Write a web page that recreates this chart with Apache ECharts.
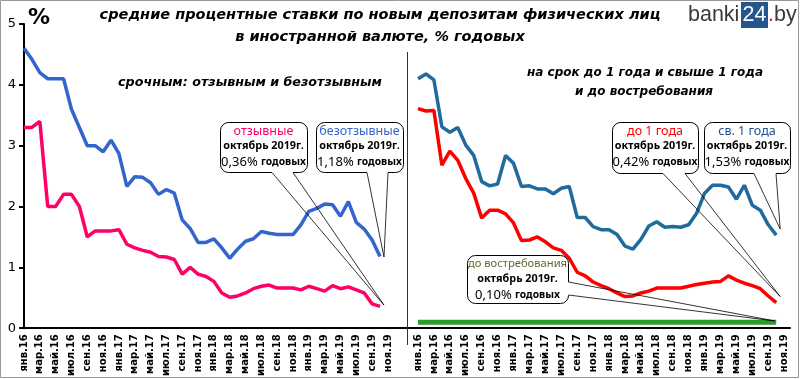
<!DOCTYPE html>
<html>
<head>
<meta charset="utf-8">
<script src="https://cdn.jsdelivr.net/npm/echarts@6/dist/echarts.min.js"></script>
<style>
html,body{margin:0;padding:0;background:#fff;}
#c{width:800px;height:379px;}
</style>
</head>
<body>
<div id="c"></div>
<script>
// tick labels (every second month, Jan 2016 .. Nov 2019)
const tickLabels = ['янв.16','мар.16','май.16','июл.16','сен.16','ноя.16',
  'янв.17','мар.17','май.17','июл.17','сен.17','ноя.17',
  'янв.18','мар.18','май.18','июл.18','сен.18','ноя.18',
  'янв.19','мар.19','май.19','июл.19','сен.19','ноя.19'];

// monthly values Jan 2016 .. Oct 2019, % per year
const revocable = [3.3, 3.3, 3.4, 2.0, 2.0, 2.2, 2.2, 2.0, 1.5, 1.6, 1.6, 1.6, 1.62, 1.38, 1.32, 1.28, 1.25, 1.18, 1.17, 1.13,
  0.89, 1.0, 0.89, 0.85, 0.77, 0.58, 0.51, 0.53, 0.58, 0.65, 0.69, 0.71, 0.66, 0.66, 0.66, 0.63, 0.69, 0.65, 0.61, 0.70,
  0.65, 0.68, 0.63, 0.58, 0.40, 0.36];
const irrevocable = [4.6, 4.42, 4.2, 4.1, 4.1, 4.1, 3.6, 3.3, 3.0, 3.0, 2.9, 3.09, 2.87, 2.33, 2.49, 2.48, 2.39, 2.2, 2.28, 2.22,
  1.78, 1.64, 1.41, 1.41, 1.47, 1.32, 1.15, 1.30, 1.43, 1.47, 1.59, 1.56, 1.54, 1.54, 1.54, 1.70, 1.92, 1.97, 2.04, 2.03,
  1.84, 2.08, 1.74, 1.63, 1.45, 1.18];
const upTo1Year = [3.61, 3.57, 3.58, 2.68, 2.91, 2.76, 2.46, 2.22, 1.81, 1.94, 1.94, 1.88, 1.73, 1.44, 1.45, 1.50, 1.42, 1.32, 1.28, 1.15,
  0.92, 0.86, 0.76, 0.70, 0.65, 0.58, 0.52, 0.53, 0.58, 0.61, 0.66, 0.66, 0.66, 0.66, 0.69, 0.72, 0.74, 0.76, 0.77, 0.86,
  0.79, 0.74, 0.70, 0.65, 0.53, 0.42];
const over1Year = [4.10, 4.18, 4.08, 3.31, 3.22, 3.30, 3.01, 2.84, 2.41, 2.34, 2.37, 2.84, 2.71, 2.33, 2.34, 2.29, 2.29, 2.21, 2.30, 2.33,
  1.82, 1.82, 1.67, 1.62, 1.62, 1.54, 1.35, 1.30, 1.46, 1.68, 1.75, 1.66, 1.67, 1.66, 1.70, 1.89, 2.22, 2.35, 2.35, 2.32,
  2.12, 2.35, 2.02, 1.94, 1.70, 1.53];
const onDemand = [0.1, 0.1, 0.1, 0.1, 0.1, 0.1, 0.1, 0.1, 0.1, 0.1, 0.1, 0.1, 0.1, 0.1, 0.1, 0.1, 0.1, 0.1, 0.1, 0.1,
  0.1, 0.1, 0.1, 0.1, 0.1, 0.1, 0.1, 0.1, 0.1, 0.1, 0.1, 0.1, 0.1, 0.1, 0.1, 0.1, 0.1, 0.1, 0.1, 0.1,
  0.1, 0.1, 0.1, 0.1, 0.1, 0.1];

const pairs = arr => arr.map((v, i) => [i, v]);
const labelFmt = v => (Number.isInteger(v) && v % 2 === 0 && v / 2 < tickLabels.length) ? tickLabels[v / 2] : '';

function xAx(gi, max) {
  return {
    type: 'value', gridIndex: gi, min: 0, max: max, interval: 2,
    axisLine: {show: true, onZero: false, lineStyle: {color: '#000', width: 2}},
    axisTick: {show: false}, splitLine: {show: false},
    axisLabel: {rotate: 90, formatter: labelFmt, fontSize: 10, fontWeight: 'bold', color: '#000',
      margin: 6, fontFamily: 'DejaVu Sans', showMaxLabel: false, showMinLabel: true}
  };
}
function line(name, data, xi, color, w) {
  return {name, type: 'line', xAxisIndex: xi, yAxisIndex: xi, data: pairs(data), showSymbol: false,
    smooth: false, lineStyle: {color, width: w}, itemStyle: {color}, z: 3};
}

const chart = echarts.init(document.getElementById('c'), null, {renderer: 'canvas'});
chart.setOption({
  animation: false,
  backgroundColor: '#fff',
  grid: [{left: 24, top: 24, width: 394, height: 306}, {left: 418, top: 24, width: 372, height: 306}],
  xAxis: [xAx(0, 49.8), xAx(1, 46.73)],
  yAxis: [
    {type: 'value', gridIndex: 0, min: 0, max: 5, interval: 1,
      axisLine: {show: true, lineStyle: {color: '#000', width: 2}},
      axisTick: {show: true, length: 5, lineStyle: {color: '#000', width: 2}},
      splitLine: {show: false},
      axisLabel: {fontSize: 13, color: '#000', margin: 8, fontFamily: 'DejaVu Sans'}},
    {type: 'value', gridIndex: 1, min: 0, max: 5, interval: 1, show: false, splitLine: {show: false}}
  ],
  series: [
    line('отзывные', revocable, 0, '#ff0066', 3.5),
    line('безотзывные', irrevocable, 0, '#3366cc', 3.5),
    line('до 1 года', upTo1Year, 1, '#ff0000', 3.5),
    line('св. 1 года', over1Year, 1, '#1f6b9c', 3.5),
    line('до востребования', onDemand, 1, '#2a9d2a', 5)
  ]
});

// ---- annotations ----
const g = [];
g.push({type: 'rect', shape: {x: 0.5, y: 0.5, width: 798, height: 377}, style: {fill: 'none', stroke: '#999', lineWidth: 1}, z: 0, silent: true});
g.push({type: 'line', shape: {x1: 407.5, y1: 52, x2: 407.5, y2: 345}, style: {stroke: '#333', lineWidth: 1}, z: 10});
g.push({type: 'text', x: 39, y: 18, style: {text: '%', font: 'bold 22px "DejaVu Sans"', fill: '#000', textAlign: 'center', textVerticalAlign: 'middle'}, z: 10});
g.push({type: 'text', x: 380, y: 15, style: {text: 'средние процентные ставки по новым депозитам физических лиц', font: 'italic bold 14.5px "DejaVu Sans"', fill: '#000', textAlign: 'center', textVerticalAlign: 'middle'}, z: 10});
g.push({type: 'text', x: 380, y: 37, style: {text: 'в иностранной валюте, % годовых', font: 'italic bold 14.5px "DejaVu Sans"', fill: '#000', textAlign: 'center', textVerticalAlign: 'middle'}, z: 10});
g.push({type: 'text', x: 250, y: 83, style: {text: 'срочным: отзывным и безотзывным', font: 'italic bold 12.7px "DejaVu Sans"', fill: '#000', textAlign: 'center', textVerticalAlign: 'middle'}, z: 10});
g.push({type: 'text', x: 645, y: 73, style: {text: 'на срок до 1 года и свыше 1 года', font: 'italic bold 12px "DejaVu Sans"', fill: '#000', textAlign: 'center', textVerticalAlign: 'middle'}, z: 10});
g.push({type: 'text', x: 644, y: 92, style: {text: 'и до востребования', font: 'italic bold 12px "DejaVu Sans"', fill: '#000', textAlign: 'center', textVerticalAlign: 'middle'}, z: 10});
// logo
g.push({type: 'text', x: 688, y: 15, style: {text: 'banki', font: '21.5px "Liberation Sans"', fill: '#3a3a3a', textAlign: 'left', textVerticalAlign: 'middle'}, z: 10});
g.push({type: 'rect', shape: {x: 741, y: 2, width: 27, height: 26}, style: {fill: '#24558f'}, z: 10});
g.push({type: 'text', x: 754.5, y: 15, style: {text: '24', font: '21.5px "Liberation Sans"', fill: '#fff', textAlign: 'center', textVerticalAlign: 'middle'}, z: 11});
g.push({type: 'text', x: 768, y: 15, style: {text: '.', font: '21.5px "Liberation Sans"', fill: '#e02020', textAlign: 'left', textVerticalAlign: 'middle'}, z: 10});
g.push({type: 'text', x: 774, y: 15, style: {text: 'by', font: '21.5px "Liberation Sans"', fill: '#3a3a3a', textAlign: 'left', textVerticalAlign: 'middle'}, z: 10});

function box(x, y, w, h, title, color, pct, tsize) {
  g.push({type: 'rect', shape: {x: x + 0.5, y: y + 0.5, width: w, height: h, r: 8}, style: {fill: '#fff', stroke: '#000', lineWidth: 1}, z: 20});
  const cx = x + w / 2;
  g.push({type: 'text', x: cx, y: y + 9, style: {text: title, font: tsize + 'px "Noto Sans"', fill: color, textAlign: 'center', textVerticalAlign: 'middle'}, z: 21});
  g.push({type: 'text', x: cx, y: y + 24, style: {text: 'октябрь 2019г.', font: 'bold 10.8px "Noto Sans"', fill: '#000', textAlign: 'center', textVerticalAlign: 'middle'}, z: 21});
  g.push({type: 'text', x: cx, y: y + 40, style: {
    text: '{a|' + pct + '} {b|годовых}', textAlign: 'center', textVerticalAlign: 'middle',
    rich: {a: {font: '13px "Noto Sans"', fill: '#000'}, b: {font: 'bold 10.3px "Noto Sans"', fill: '#000'}}}, z: 21});
}
function pointer(p1, p2, tip, vertical) {
  if (vertical) {
    g.push({type: 'line', shape: {x1: p1[0] + 0.5, y1: p1[1], x2: p2[0] + 0.5, y2: p2[1]}, style: {stroke: '#fff', lineWidth: 2}, z: 22});
  } else {
    g.push({type: 'line', shape: {x1: p1[0], y1: p1[1] + 0.5, x2: p2[0], y2: p2[1] + 0.5}, style: {stroke: '#fff', lineWidth: 2}, z: 22});
  }
  g.push({type: 'line', shape: {x1: p1[0], y1: p1[1], x2: tip[0], y2: tip[1]}, style: {stroke: '#000', lineWidth: 0.8}, z: 23});
  g.push({type: 'line', shape: {x1: p2[0], y1: p2[1], x2: tip[0], y2: tip[1]}, style: {stroke: '#000', lineWidth: 0.8}, z: 23});
}
const L = (x, v) => chart.convertToPixel({xAxisIndex: 0, yAxisIndex: 0}, [x, v]);
const R = (x, v) => chart.convertToPixel({xAxisIndex: 1, yAxisIndex: 1}, [x, v]);

box(220, 122, 87, 50, 'отзывные', '#ff0066', '0,36%', 12.5);
pointer([272, 172.5], [293, 172.5], L(45.5, 0.38));
box(316, 122, 87, 50, 'безотзывные', '#3366cc', '1,18%', 12.5);
pointer([367, 172.5], [388, 172.5], L(45.5, 1.17));
box(612, 122, 86, 51, 'до 1 года', '#ff0000', '0,42%', 12.5);
pointer([663, 173.5], [685, 173.5], R(45.5, 0.52));
box(704, 122, 86, 51, 'св. 1 года', '#1f4e8c', '1,53%', 12.5);
pointer([754, 173.5], [776, 173.5], R(45.5, 1.63));
box(467, 255, 101, 48, 'до востребования', '#5f6a2a', '0,10%', 11.2);
pointer([568.5, 282], [568.5, 295], R(44.8, 0.12), true);

chart.setOption({graphic: g});
</script>
</body>
</html>
